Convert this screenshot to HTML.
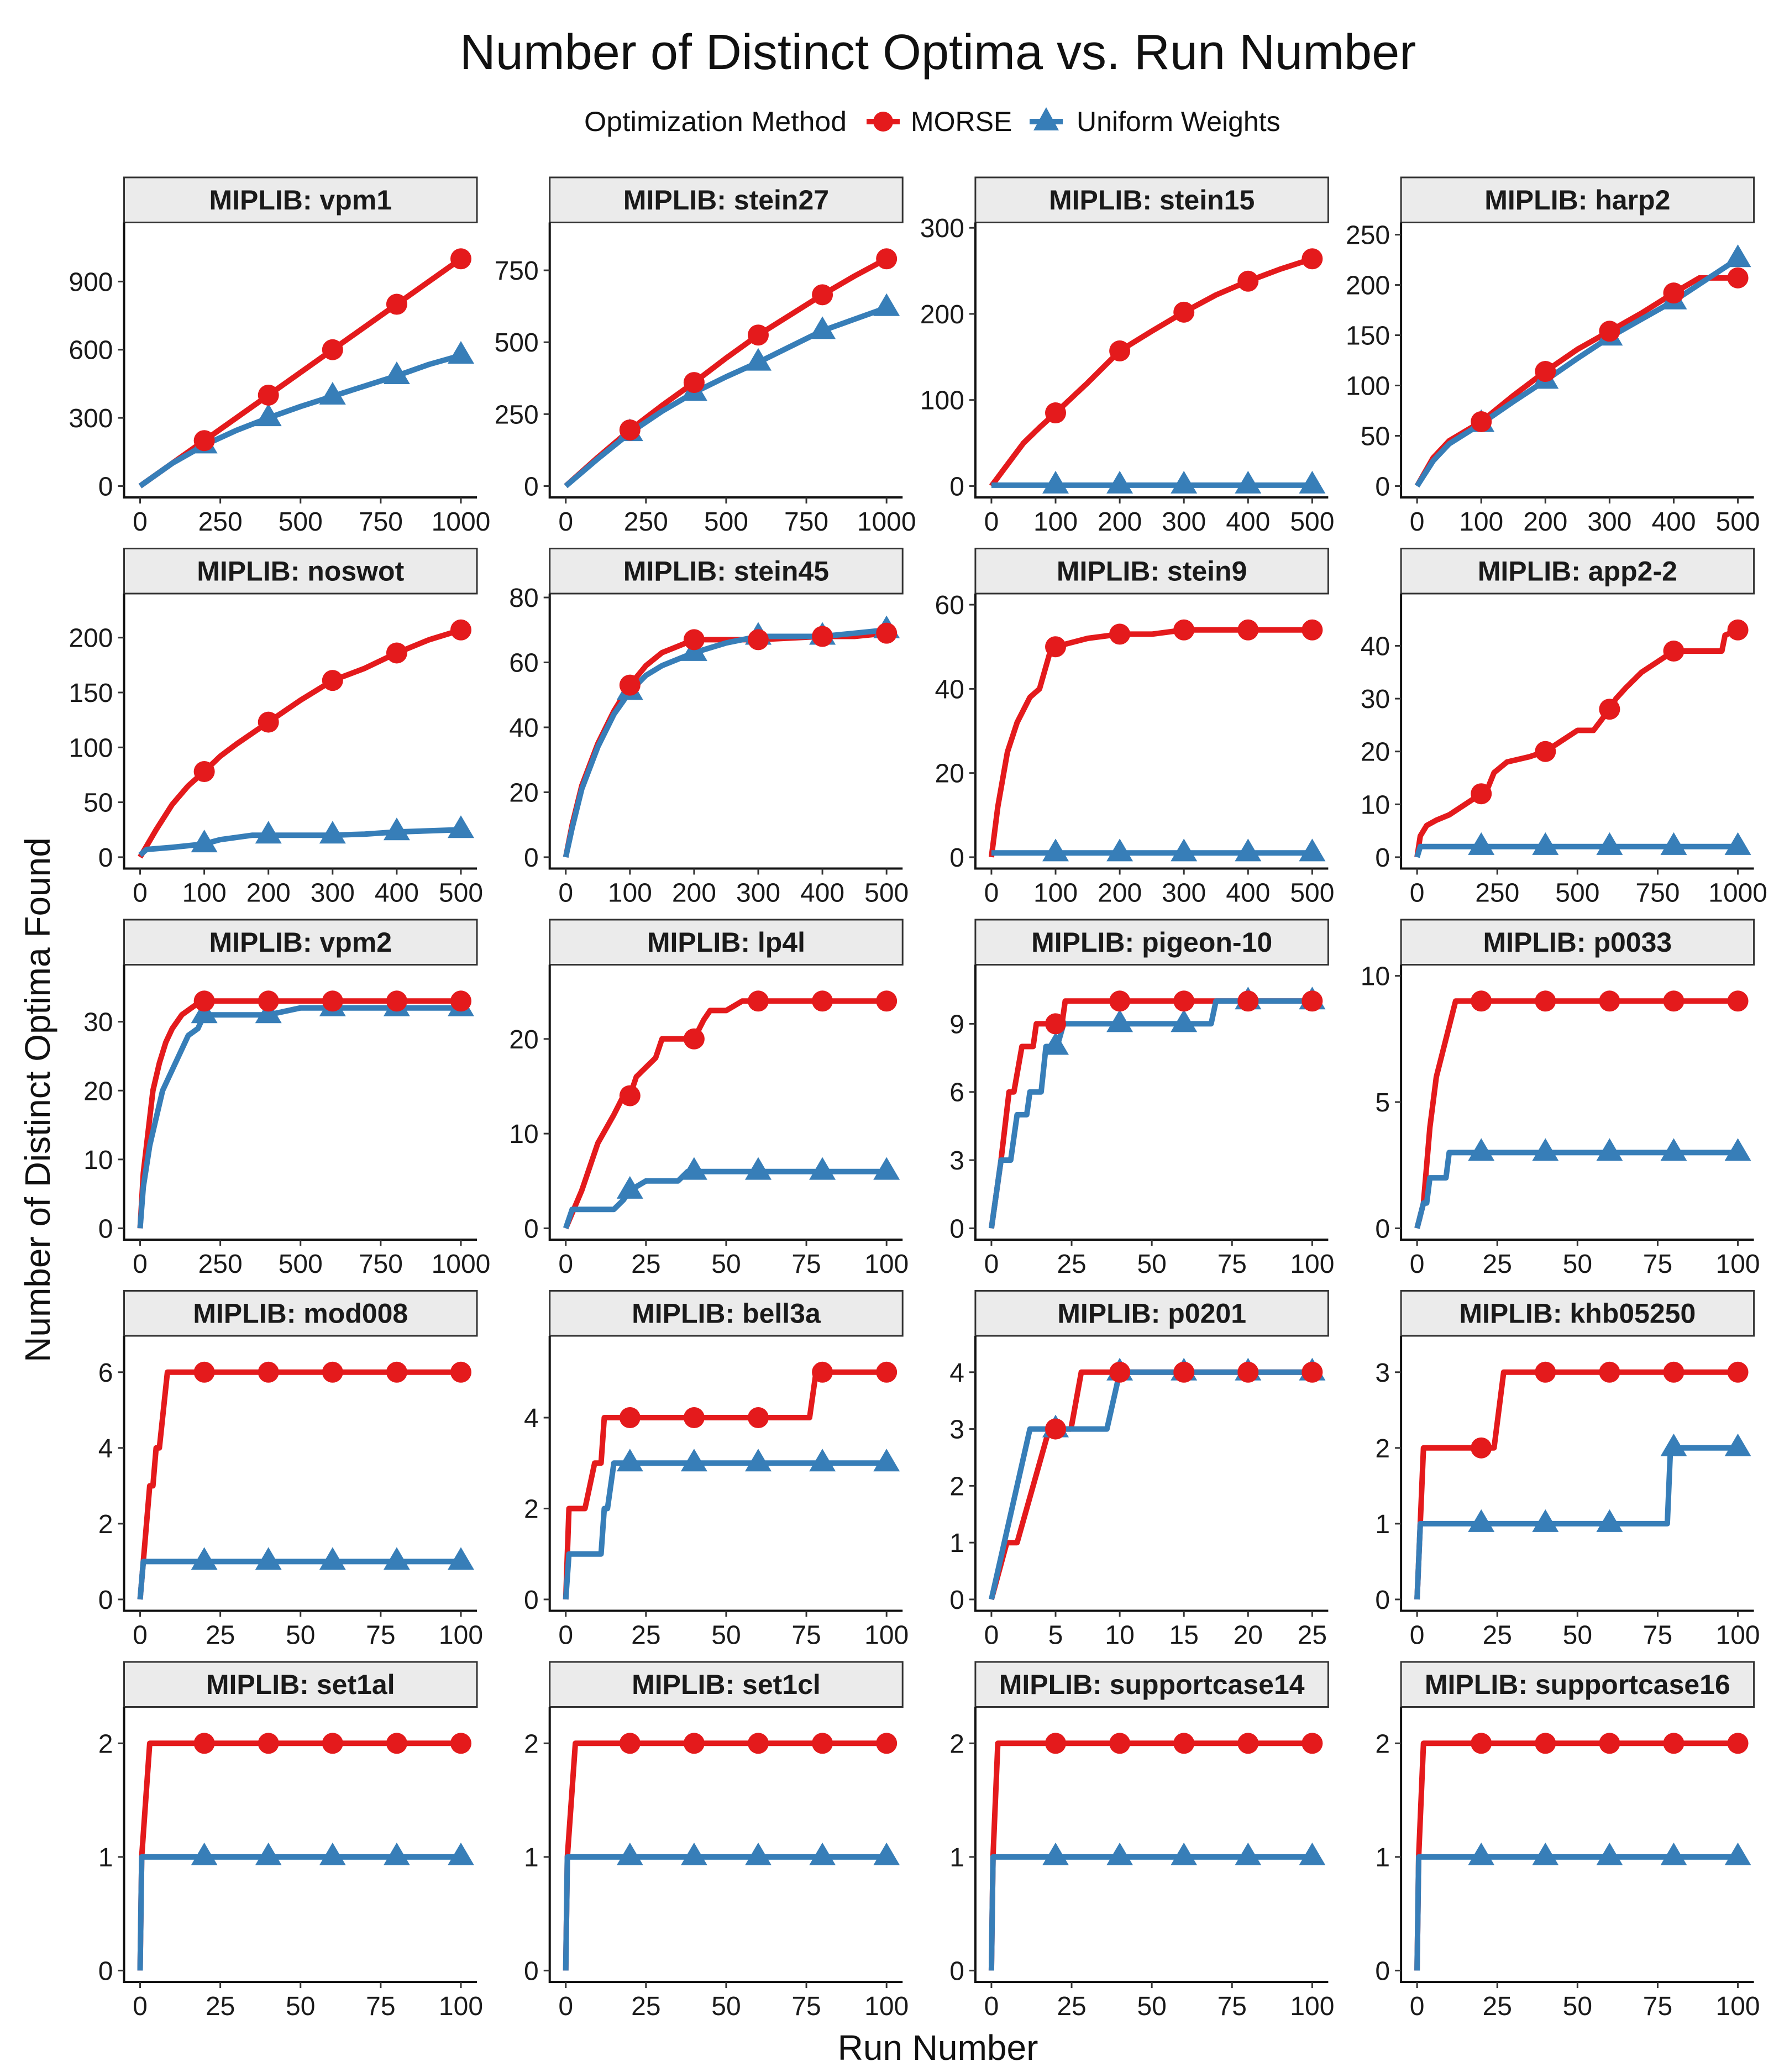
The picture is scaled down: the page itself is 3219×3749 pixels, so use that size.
<!DOCTYPE html>
<html><head><meta charset="utf-8"><style>
html,body{margin:0;padding:0;background:#fff;}
svg{display:block;font-family:"Liberation Sans",Arial,sans-serif;}
</style></head><body>
<svg id="chart" width="3219" height="3749" viewBox="0 0 3219 3749" xmlns="http://www.w3.org/2000/svg">
<rect width="3219" height="3749" fill="#fff"/>
<text x="1697" y="125" font-size="90" text-anchor="middle" fill="#111">Number of Distinct Optima vs. Run Number</text>
<g>
<text x="1057" y="237" font-size="50" fill="#111" textLength="475" lengthAdjust="spacingAndGlyphs">Optimization Method</text>
<line x1="1568" y1="220" x2="1628" y2="220" stroke="#E41A1C" stroke-width="10"/>
<circle cx="1598" cy="220" r="18" fill="#E41A1C"/>
<text x="1648" y="237" font-size="50" fill="#111">MORSE</text>
<line x1="1863" y1="220" x2="1923" y2="220" stroke="#377EB8" stroke-width="10"/>
<polygon points="1893,194 1916,236 1870,236" fill="#377EB8"/>
<text x="1948" y="237" font-size="50" fill="#111">Uniform Weights</text>
</g>
<text transform="translate(90,1990) rotate(-90)" font-size="64" text-anchor="middle" fill="#111">Number of Distinct Optima Found</text>
<text x="1697" y="3727" font-size="64" text-anchor="middle" fill="#111">Run Number</text>
<g id="panels"></g>
</svg>
<script>
const panelNames = ["vpm1","stein27","stein15","harp2","noswot","stein45","stein9","app2-2","vpm2","lp4l","pigeon-10","p0033","mod008","bell3a","p0201","khb05250","set1al","set1cl","supportcase14","supportcase16"];
const panelXMax = [1000,1000,500,500,500,500,500,1000,1000,100,100,100,100,100,25,100,100,100,100,100];
const panelXTicks = [
 [0,250,500,750,1000],[0,250,500,750,1000],[0,100,200,300,400,500],[0,100,200,300,400,500],
 [0,100,200,300,400,500],[0,100,200,300,400,500],[0,100,200,300,400,500],[0,250,500,750,1000],
 [0,250,500,750,1000],[0,25,50,75,100],[0,25,50,75,100],[0,25,50,75,100],
 [0,25,50,75,100],[0,25,50,75,100],[0,5,10,15,20,25],[0,25,50,75,100],
 [0,25,50,75,100],[0,25,50,75,100],[0,25,50,75,100],[0,25,50,75,100]];
const panelYTicks = [
 [0,300,600,900],[0,250,500,750],[0,100,200,300],[0,50,100,150,200,250],
 [0,50,100,150,200],[0,20,40,60,80],[0,20,40,60],[0,10,20,30,40],
 [0,10,20,30],[0,10,20],[0,3,6,9],[0,5,10],
 [0,2,4,6],[0,2,4],[0,1,2,3,4],[0,1,2,3],
 [0,1,2],[0,1,2],[0,1,2],[0,1,2]];
const morseSeries = [
 [[0,0],[200,200],[400,400],[600,600],[800,800],[1000,1000]],
 [[0,0],[100,100],[200,195],[300,280],[400,360],[500,445],[600,525],[700,595],[800,665],[900,730],[1000,790]],
 [[0,0],[25,25],[50,50],[75,68],[100,85],[150,120],[200,157],[250,180],[300,202],[350,222],[400,238],[450,252],[500,264]],
 [[0,0],[25,28],[50,45],[100,64],[150,90],[200,114],[250,136],[300,154],[350,172],[400,192],[440,207],[500,207]],
 [[0,0],[25,25],[50,48],[75,65],[100,78],[125,92],[150,103],[200,123],[250,143],[300,161],[350,172],[400,186],[450,198],[500,207]],
 [[0,0],[10,10],[25,22],[50,35],[75,45],[100,53],[125,59],[150,63],[175,65],[200,67],[300,67],[400,68],[450,68],[500,69]],
 [[0,0],[10,12],[25,25],[40,32],[60,38],[75,40],[90,48],[100,50],[125,51],[150,52],[200,53],[250,53],[300,54],[500,54]],
 [[0,0],[10,4],[30,6],[60,7],[100,8],[150,10],[200,12],[220,13],[240,16],[280,18],[350,19],[400,20],[450,22],[500,24],[550,24],[600,28],[620,30],[650,32],[700,35],[750,37],[800,39],[950,39],[960,42],[1000,43]],
 [[0,0],[10,8],[25,14],[40,20],[60,24],[80,27],[100,29],[130,31],[160,32],[190,33],[1000,33]],
 [[0,0],[5,4],[10,9],[15,12],[18,14],[20,14],[22,16],[25,17],[28,18],[30,20],[40,20],[43,22],[45,23],[50,23],[55,24],[100,24]],
 [[0,0],[3,3],[5.5,6],[7,6],[9.5,8],[13,8],[14,9],[22,9],[23,10],[100,10]],
 [[0,0],[2,1],[4,4],[6,6],[8,7],[10,8],[12,9],[100,9]],
 [[0,0],[1,1],[3,3],[4,3],[5,4],[6,4],[8.5,6],[100,6]],
 [[0,0],[1,2],[6,2],[9,3],[11,3],[12,4],[76,4],[78,5],[100,5]],
 [[0,0],[1.2,1],[2,1],[4.5,3],[6.2,3],[7,4],[25,4]],
 [[0,0],[2,2],[24,2],[27,3],[100,3]],
 [[0,0],[0.5,1],[3,2],[100,2]],
 [[0,0],[0.5,1],[3,2],[100,2]],
 [[0,0],[0.5,1],[2,2],[100,2]],
 [[0,0],[0.5,1],[2,2],[100,2]]];
const uniformSeries = [
 [[0,0],[100,100],[200,180],[300,245],[400,300],[500,350],[600,395],[700,440],[800,485],[900,535],[1000,575]],
 [[0,0],[100,95],[200,185],[300,260],[400,325],[500,380],[600,430],[700,485],[800,540],[900,580],[1000,620]],
 [[0,1],[500,1]],
 [[0,0],[25,25],[50,42],[100,62],[150,84],[200,105],[250,127],[300,148],[350,166],[400,184],[450,205],[500,226]],
 [[0,2],[10,7],[50,9],[100,12],[125,16],[150,18],[175,20],[300,20],[350,21],[400,23],[450,24],[500,25]],
 [[0,0],[10,9],[25,21],[50,34],[75,44],[100,51],[125,56],[150,59],[175,61],[200,63],[250,66],[300,68],[400,68],[450,69],[500,70]],
 [[0,1],[500,1]],
 [[0,0],[10,2],[1000,2]],
 [[0,0],[10,6],[30,12],[50,16],[70,20],[90,22],[120,25],[150,28],[180,29],[200,31],[400,31],[500,32],[1000,32]],
 [[0,0],[2,2],[15,2],[18,3],[20,4],[25,5],[35,5],[38,6],[100,6]],
 [[0,0],[3,3],[6,3],[8,5],[11,5],[12,6],[15.5,6],[17,8],[20.5,8],[22.5,9],[68.5,9],[70,10],[100,10]],
 [[0,0],[2,1],[3,1],[4,2],[9,2],[10,3],[100,3]],
 [[0,0],[1,1],[100,1]],
 [[0,0],[1,1],[11,1],[12,2],[13,2],[15,3],[100,3]],
 [[0,0],[3,3],[9,3],[10,4],[25,4]],
 [[0,0],[1,1],[78,1],[79,2],[100,2]],
 [[0,0],[0.5,1],[100,1]],
 [[0,0],[0.5,1],[100,1]],
 [[0,0],[0.5,1],[100,1]],
 [[0,0],[0.5,1],[100,1]]];

const NS = "http://www.w3.org/2000/svg";
const root = document.getElementById('panels');
function mk(tag, attrs, parent){ const e=document.createElementNS(NS,tag); for(const k in attrs) e.setAttribute(k,attrs[k]); parent.appendChild(e); return e; }
function interp(s,x){ for(let i=1;i<s.length;i++){ if(x<=s[i][0]){ const a=s[i-1],b=s[i]; if(b[0]===a[0]) return b[1]; return a[1]+(b[1]-a[1])*(x-a[0])/(b[0]-a[0]); } } return s[s.length-1][1]; }
const W=638.5, SH=81.5, PH=497.5;
panelNames.forEach((name,i)=>{
  const c=i%4, r=Math.floor(i/4);
  const L=224.5+770.2*c, T=321+671.5*r, PT=T+SH, PB=PT+PH;
  const g=mk('g',{},root);
  
  
  const xmax=panelXMax[i];
  const ymax=Math.max(...morseSeries[i].map(p=>p[1]),...uniformSeries[i].map(p=>p[1]));
  const x0=-0.05*xmax, x1=1.05*xmax, y0=-0.05*ymax, y1=ymax*1.16;
  const sx=v=>L+(v-x0)/(x1-x0)*W;
  const sy=v=>PB-(v-y0)/(y1-y0)*PH;
  const strip=mk('rect',{x:L,y:T,width:W,height:SH,fill:'#EBEBEB',stroke:'#333','stroke-width':3},g);
  
  
  const st=mk('text',{x:L+W/2,y:T+58,'font-size':50,'font-weight':'bold','text-anchor':'middle',fill:'#1a1a1a'},g);
  st.textContent='MIPLIB: '+name;
  
  
  const ax=mk('path',{d:`M${L},${PT} V${PB} H${L+W}`,fill:'none',stroke:'#111','stroke-width':4},g);
  
  
  panelYTicks[i].forEach(t=>{
    const y=sy(t);
    mk('line',{x1:L-11,x2:L,y1:y,y2:y,stroke:'#333','stroke-width':3},g);
    const tl=mk('text',{x:L-20,y:y+17,'font-size':48,'text-anchor':'end',fill:'#1a1a1a'},g);
    tl.textContent=t;
    
    
  });
  panelXTicks[i].forEach(t=>{
    const x=sx(t);
    mk('line',{x1:x,x2:x,y1:PB,y2:PB+11,stroke:'#333','stroke-width':3},g);
    const tl=mk('text',{x:x,y:PB+60,'font-size':48,'text-anchor':'middle',fill:'#1a1a1a'},g);
    tl.textContent=t;
    
    
  });
  const pts=s=>s.map(p=>sx(p[0]).toFixed(1)+','+sy(p[1]).toFixed(1)).join(' ');
  const lm=mk('polyline',{points:pts(morseSeries[i]),fill:'none',stroke:'#E41A1C','stroke-width':10,'stroke-linejoin':'round'},g);
  
  
  const lu=mk('polyline',{points:pts(uniformSeries[i]),fill:'none',stroke:'#377EB8','stroke-width':10,'stroke-linejoin':'round'},g);
  
  
  for(let k=1;k<=5;k++){
    const xv=xmax*k/5, cx=sx(xv), cy=sy(interp(uniformSeries[i],xv));
    const tri=mk('polygon',{points:`${cx},${cy-26} ${cx+24},${cy+15} ${cx-24},${cy+15}`,fill:'#377EB8'},g);
    
    
  }
  for(let k=1;k<=5;k++){
    const xv=xmax*k/5;
    const ci=mk('circle',{cx:sx(xv),cy:sy(interp(morseSeries[i],xv)),r:19,fill:'#E41A1C'},g);
    
    
  }
});
</script>
</body></html>
